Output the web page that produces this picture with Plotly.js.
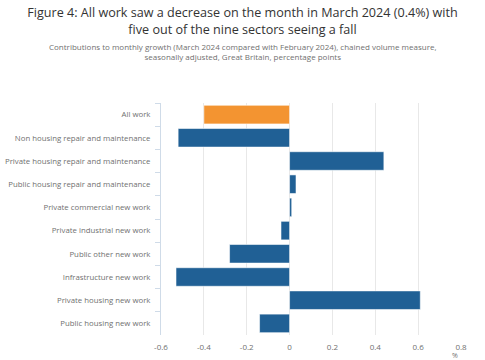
<!DOCTYPE html>
<html>
<head>
<meta charset="utf-8">
<script src="https://cdn.plot.ly/plotly-3.0.1.min.js"></script>
<style>html,body{margin:0;padding:0;background:#fff;}#chart{width:485px;height:360px;}</style>
</head>
<body>
<div id="chart"></div>
<script>
var categories = [
  "All work",
  "Non housing repair and maintenance",
  "Private housing repair and maintenance",
  "Public housing repair and maintenance",
  "Private commercial new work",
  "Private industrial new work",
  "Public other new work",
  "Infrastructure new work",
  "Private housing new work",
  "Public housing new work"
];
var values = [-0.40, -0.52, 0.44, 0.03, 0.01, -0.04, -0.28, -0.53, 0.61, -0.14];
var xTickValues = [-0.6, -0.4, -0.2, 0, 0.2, 0.4, 0.6, 0.8];
var xTickLabels = ["-0.6", "-0.4", "-0.2", "0", "0.2", "0.4", "0.6", "0.8"];
var titleText = "Figure 4: All work saw a decrease on the month in March 2024 (0.4%) with<br>five out of the nine sectors seeing a fall";
var subtitleText = "Contributions to monthly growth (March 2024 compared with February 2024), chained volume measure,<br>seasonally adjusted, Great Britain, percentage points";
var unitLabel = "%";

var colors = categories.map(function (c, i) { return i === 0 ? "#f39431" : "#206095"; });

var trace = {
  type: "bar",
  orientation: "h",
  y: categories,
  x: values,
  marker: { color: colors, line: { color: "rgba(255,255,255,0.55)", width: 1 } },
  hoverinfo: "x+y"
};

var layout = {
  width: 485,
  height: 360,
  paper_bgcolor: "#ffffff",
  plot_bgcolor: "#ffffff",
  font: { family: "Open Sans, sans-serif", color: "#707070", size: 8 },
  margin: { l: 161, r: 24, t: 103, b: 25 },
  bargap: 0.2,
  showlegend: false,
  title: {
    text: titleText,
    x: 0.5, xref: "container", xanchor: "center",
    y: 0.952, yref: "container", yanchor: "middle",
    font: { family: "Open Sans, sans-serif", size: 12.6, color: "#333333", weight: 400 }
  },
  xaxis: {
    range: [-0.6, 0.8],
    tickvals: xTickValues,
    ticktext: xTickLabels,
    showgrid: true,
    gridcolor: "#e8e8e8",
    gridwidth: 1,
    zeroline: false,
    showline: false,
    ticks: "",
    ticklabelstandoff: 6,
    tickfont: { size: 8, color: "#707070" },
    fixedrange: true
  },
  yaxis: {
    type: "category",
    autorange: "reversed",
    showgrid: false,
    zeroline: false,
    showline: true,
    linecolor: "#cfdbe8",
    linewidth: 1,
    ticks: "outside",
    tickson: "boundaries",
    ticklen: 5,
    tickcolor: "#cfdbe8",
    ticklabelstandoff: 8,
    tickfont: { size: 7.8, color: "#707070" },
    fixedrange: true
  },
  annotations: [
    {
      text: subtitleText,
      xref: "paper", yref: "paper",
      x: (242.5 - 161) / 300, xanchor: "center",
      y: 1.275, yanchor: "top",
      showarrow: false,
      align: "center",
      font: { size: 8, color: "#707070" }
    },
    {
      text: unitLabel,
      xref: "paper", yref: "paper",
      x: 0.98, xanchor: "center",
      y: -0.06, yanchor: "top",
      showarrow: false,
      font: { size: 7, color: "#707070" }
    }
  ]
};

Plotly.newPlot("chart", [trace], layout, { displayModeBar: false, staticPlot: true });
</script>
</body>
</html>
